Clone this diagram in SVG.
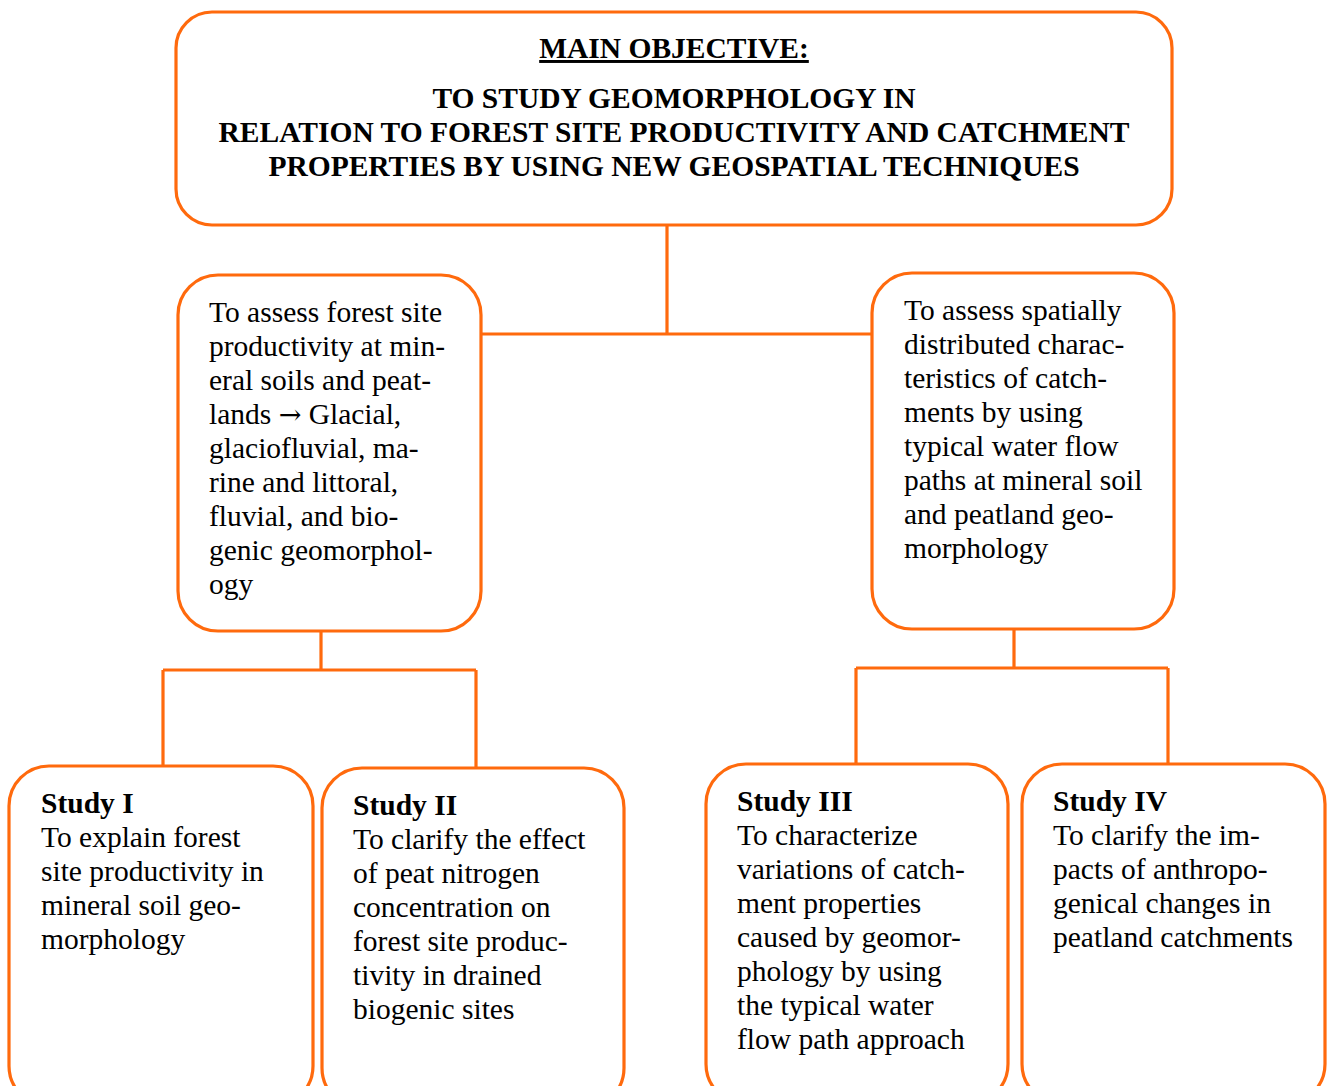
<svg xmlns="http://www.w3.org/2000/svg" width="1328" height="1086" viewBox="0 0 1328 1086">
<style>
.box{fill:#fff;stroke:#FF6A0D;stroke-width:3.2}
.con{fill:none;stroke:#FF6A0D;stroke-width:3.2}
.t{font-family:"Liberation Serif","Times New Roman",serif;font-size:29.5px;fill:#000}
.h{font-family:"Liberation Serif","Times New Roman",serif;font-size:29.5px;font-weight:bold;fill:#000;text-anchor:middle}
.b{font-weight:bold}
.ar{font-family:"DejaVu Serif",serif;font-size:27px}
</style>
<rect width="1328" height="1086" fill="#fff"/>
<g id="connectors">
<path class="con" d="M667 225V334M481 334H872"/>
<path class="con" d="M321 631V670M163 670H476M163 670V766M476 670V768"/>
<path class="con" d="M1014 629V668M856 668H1168M856 668V765M1168 668V765"/>
</g>
<g id="main">
<rect class="box" x="176" y="12" width="996" height="213" rx="36"/>
<text class="h" x="674" y="58" text-decoration="underline">MAIN OBJECTIVE:</text>
<text class="h" x="674" y="108">TO STUDY GEOMORPHOLOGY IN</text>
<text class="h" x="674" y="142">RELATION TO FOREST SITE PRODUCTIVITY AND CATCHMENT</text>
<text class="h" x="674" y="176">PROPERTIES BY USING NEW GEOSPATIAL TECHNIQUES</text>
</g>
<g id="obj1">
<rect class="box" x="178" y="275" width="303" height="356" rx="40"/>
<text class="t" x="209" y="322">To assess forest site</text>
<text class="t" x="209" y="356">productivity at min-</text>
<text class="t" x="209" y="390">eral soils and peat-</text>
<text class="t" x="209" y="424">lands <tspan class="ar">→</tspan> Glacial,</text>
<text class="t" x="209" y="458">glaciofluvial, ma-</text>
<text class="t" x="209" y="492">rine and littoral,</text>
<text class="t" x="209" y="526">fluvial, and bio-</text>
<text class="t" x="209" y="560">genic geomorphol-</text>
<text class="t" x="209" y="594">ogy</text>
</g>
<g id="obj2">
<rect class="box" x="872" y="273" width="302" height="356" rx="40"/>
<text class="t" x="904" y="320">To assess spatially</text>
<text class="t" x="904" y="354">distributed charac-</text>
<text class="t" x="904" y="388">teristics of catch-</text>
<text class="t" x="904" y="422">ments by using</text>
<text class="t" x="904" y="456">typical water flow</text>
<text class="t" x="904" y="490">paths at mineral soil</text>
<text class="t" x="904" y="524">and peatland geo-</text>
<text class="t" x="904" y="558">morphology</text>
</g>
<g id="study1">
<rect class="box" x="9" y="766" width="304" height="340" rx="40"/>
<text class="t b" x="41" y="813">Study I</text>
<text class="t" x="41" y="847">To explain forest</text>
<text class="t" x="41" y="881">site productivity in</text>
<text class="t" x="41" y="915">mineral soil geo-</text>
<text class="t" x="41" y="949">morphology</text>
</g>
<g id="study2">
<rect class="box" x="322" y="768" width="302" height="340" rx="40"/>
<text class="t b" x="353" y="815">Study II</text>
<text class="t" x="353" y="849">To clarify the effect</text>
<text class="t" x="353" y="883">of peat nitrogen</text>
<text class="t" x="353" y="917">concentration on</text>
<text class="t" x="353" y="951">forest site produc-</text>
<text class="t" x="353" y="985">tivity in drained</text>
<text class="t" x="353" y="1019">biogenic sites</text>
</g>
<g id="study3">
<rect class="box" x="706" y="764" width="302" height="340" rx="40"/>
<text class="t b" x="737" y="811">Study III</text>
<text class="t" x="737" y="845">To characterize</text>
<text class="t" x="737" y="879">variations of catch-</text>
<text class="t" x="737" y="913">ment properties</text>
<text class="t" x="737" y="947">caused by geomor-</text>
<text class="t" x="737" y="981">phology by using</text>
<text class="t" x="737" y="1015">the typical water</text>
<text class="t" x="737" y="1049">flow path approach</text>
</g>
<g id="study4">
<rect class="box" x="1022" y="764" width="303" height="340" rx="40"/>
<text class="t b" x="1053" y="811">Study IV</text>
<text class="t" x="1053" y="845">To clarify the im-</text>
<text class="t" x="1053" y="879">pacts of anthropo-</text>
<text class="t" x="1053" y="913">genical changes in</text>
<text class="t" x="1053" y="947">peatland catchments</text>
</g>
</svg>
